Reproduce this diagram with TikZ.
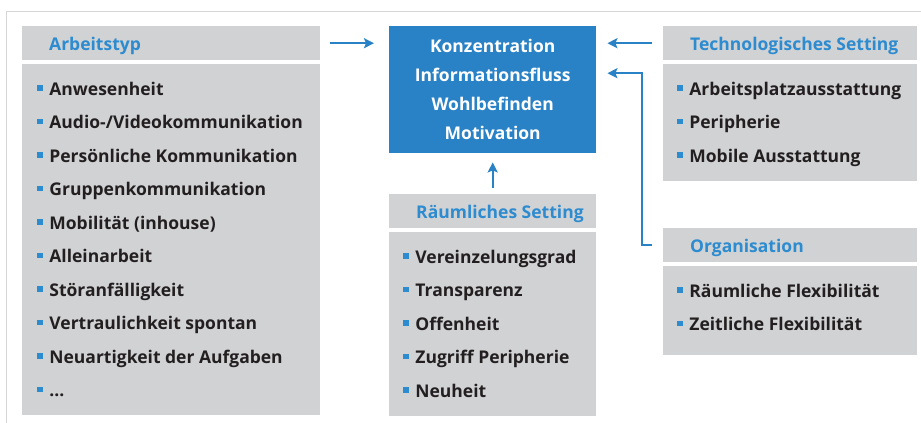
\documentclass[tikz,border=0pt]{standalone}
\usepackage{fontspec}
\setmainfont{Open Sans}
\usetikzlibrary{arrows.meta, positioning}
\definecolor{fhblue}{HTML}{2A82C6}
\definecolor{fhtitle}{HTML}{2D8BD0}
\definecolor{fhgrey}{HTML}{D1D2D4}
\definecolor{fhtext}{HTML}{231F20}
\definecolor{fhframe}{HTML}{D6D6D6}
\newcommand{\bul}{\textcolor{fhtitle}{\rule[4.3pt]{5.7pt}{5.7pt}}\hspace{6.5pt}}

\begin{document}
\begin{tikzpicture}[x=1pt, y=-1pt,
  font=\fontsize{17.5}{28.9}\selectfont\bfseries,
  box/.style={fill=fhgrey, inner sep=0pt, anchor=north west},
  title/.style={text=fhtitle, inner sep=0pt, anchor=base west},
  item/.style={text=fhtext, inner sep=0pt, anchor=base west},
  flow/.style={draw=fhblue, line width=2pt, -{Stealth[length=10pt,width=10pt,inset=2pt]}}
]
\useasboundingbox (0,0) rectangle (921,423);
\draw[fhframe, line width=1pt] (921,11) -- (6,11) -- (6,423);

\node[fill=fhblue, text=white, align=center,
    minimum width=207pt,
    minimum height=127pt,
    anchor=north west
] (focus) at (389,26) {Konzentration\\Informationsfluss\\Wohlbefinden\\Motivation};

\node[box, minimum width=298pt, minimum height=34pt] (typhead) at (22,26) {};
\node[box, minimum width=298pt, minimum height=351pt] (typbox) at (22,64) {};
\node[title] (typtitle) at ([xshift=27pt, yshift=-24pt]typhead.north west) {Arbeitstyp};
\foreach \t [count=\i] in {Anwesenheit, Audio-/Videokommunikation, Persönliche Kommunikation,
    Gruppenkommunikation, Mobilität (inhouse), Alleinarbeit, Störanfälligkeit,
    Vertraulichkeit spontan, Neuartigkeit der Aufgaben, .{}.{}.}
  \node[item] (typ\i) at ([xshift=15pt, yshift={-31pt-33.5pt*(\i-1)}]typbox.north west) {\bul\t};

\node[box, minimum width=254pt, minimum height=34pt] (techhead) at (663,26) {};
\node[box, minimum width=254pt, minimum height=117pt] (techbox) at (663,64) {};
\node[title] (techtitle) at ([xshift=27pt, yshift=-24pt]techhead.north west) {Technologisches Setting};
\foreach \t [count=\i] in {Arbeitsplatzausstattung, Peripherie, Mobile Ausstattung}
  \node[item] (tech\i) at ([xshift=14pt, yshift={-31pt-33.5pt*(\i-1)}]techbox.north west) {\bul\t};

\node[box, minimum width=254pt, minimum height=34pt] (orghead) at (663,228) {};
\node[box, minimum width=254pt, minimum height=89pt] (orgbox) at (663,266) {};
\node[title] (orgtitle) at ([xshift=27pt, yshift=-24pt]orghead.north west) {Organisation};
\foreach \t [count=\i] in {Räumliche Flexibilität, Zeitliche Flexibilität}
  \node[item] (org\i) at ([xshift=14pt, yshift={-31pt-33.5pt*(\i-1)}]orgbox.north west) {\bul\t};

\node[box, minimum width=207pt, minimum height=34pt] (raumhead) at (389,194) {};
\node[box, minimum width=207pt, minimum height=184pt] (raumbox) at (389,232) {};
\node[title] (raumtitle) at ([xshift=27pt, yshift=-24pt]raumhead.north west) {Räumliches Setting};
\foreach \t [count=\i] in {Vereinzelungsgrad, Transparenz, Offenheit, Zugriff Peripherie, Neuheit}
  \node[item] (raum\i) at ([xshift=14pt, yshift={-31pt-33.5pt*(\i-1)}]raumbox.north west) {\bul\t};

\draw[flow, shorten <=10pt, shorten >=15pt] (typhead.east) -- (typhead.east -| focus.west);
\draw[flow, shorten <=11pt, shorten >=11pt] (techhead.west) -- (techhead.west -| focus.east);
\draw[flow, shorten <=11pt, shorten >=11pt] (orghead.west) -- ++(-21,0) |- ([yshift=16.5pt]focus.east);
\draw[flow, shorten <=6pt, shorten >=9pt] (raumhead.north) -- (focus.south);

\end{tikzpicture}
\end{document}
